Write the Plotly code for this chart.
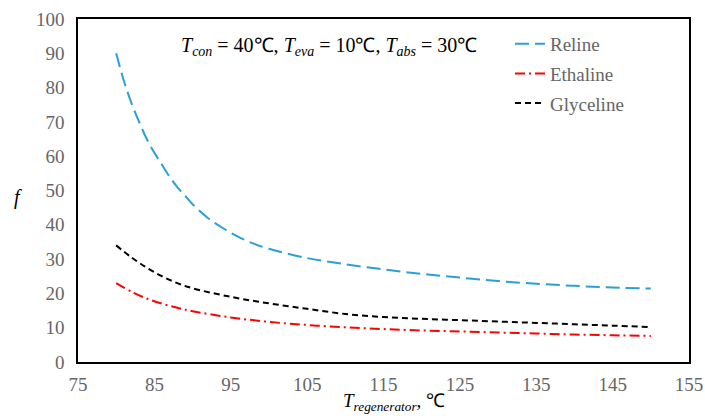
import plotly.graph_objects as go

# Data
x_reline = [80, 81, 82, 83, 84, 85, 86, 87, 88, 89, 90, 92, 94, 96, 98, 100,
            105, 110, 115, 120, 125, 130, 135, 140, 145, 150]
f_reline = [90, 82, 75.5, 70, 65, 61, 57.5, 54, 51, 48.5, 46, 42, 39, 36.5, 34.5, 33,
            30.3, 28.5, 27, 25.7, 24.6, 23.6, 22.8, 22.2, 21.7, 21.4]

x_other = [80, 82, 84, 86, 88, 90, 95, 100, 105, 110, 115, 120, 125, 130, 135, 140, 145, 150]
f_ethaline = [23, 20.5, 18.5, 17, 15.8, 14.8, 13, 11.7, 10.8, 10.1, 9.6, 9.2, 8.9, 8.6, 8.3, 8.0, 7.8, 7.6]
f_glyceline = [34, 30.5, 27.5, 25, 23, 21.5, 19, 17.1, 15.5, 14.0, 13.1, 12.6, 12.2, 11.8, 11.4, 11.0, 10.6, 10.2]

x_ticks = [75, 85, 95, 105, 115, 125, 135, 145, 155]
y_ticks = [0, 10, 20, 30, 40, 50, 60, 70, 80, 90, 100]

SERIF = "Liberation Serif"
GRAY = "#666666"

fig = go.Figure()
fig.add_trace(go.Scatter(x=x_reline, y=f_reline, name="Reline", mode="lines",
                         line=dict(color="#2A9FD8", width=2, dash="14px,6px", shape="spline"),
                         legendgroup="a"))
fig.add_trace(go.Scatter(x=x_other, y=f_ethaline, name="Ethaline", mode="lines",
                         line=dict(color="#FF0000", width=2, dash="10px,4px,2px,4px", shape="spline"),
                         legendgroup="b"))
fig.add_trace(go.Scatter(x=x_other, y=f_glyceline, name="Glyceline", mode="lines",
                         line=dict(color="#000000", width=2, dash="6px,4px", shape="spline"),
                         legendgroup="c"))

fig.update_layout(
    width=705, height=416,
    margin=dict(l=78, r=16, t=19, b=54, autoexpand=False),
    paper_bgcolor="white", plot_bgcolor="white",
    font=dict(family=SERIF, size=19, color=GRAY),
    showlegend=True,
    legend=dict(x=0.707, y=0.983, xanchor="left", yanchor="top",
                bgcolor="rgba(0,0,0,0)", traceorder="grouped", tracegroupgap=2,
                font=dict(family=SERIF, size=19, color=GRAY)),
    xaxis=dict(range=[75, 155], tickvals=x_ticks, ticktext=[str(v) for v in x_ticks],
               showgrid=False, zeroline=False, showline=True, linecolor="black",
               linewidth=1.5, mirror=True, ticks="", ticklen=0, ticklabelstandoff=4,
               tickfont=dict(family=SERIF, size=19, color=GRAY)),
    yaxis=dict(range=[0, 100], tickvals=y_ticks, ticktext=[str(v) for v in y_ticks],
               showgrid=False, zeroline=False, showline=True, linecolor="black",
               linewidth=1.5, mirror=True, ticks="", ticklen=0, ticklabelstandoff=8,
               tickfont=dict(family=SERIF, size=19, color=GRAY)),
)

fig.add_annotation(
    xref="paper", yref="paper", x=0.41, y=0.92, xanchor="center", yanchor="middle",
    showarrow=False,
    text=("<i>T</i><sub><i>con</i></sub> = 40℃, <i>T</i><sub><i>eva</i></sub> = 10℃, "
          "<i>T</i><sub><i>abs</i></sub> = 30℃"),
    font=dict(family=SERIF, size=20, color="black"),
)
fig.add_annotation(
    xref="paper", yref="paper", x=0.518, y=-0.118, xanchor="center", yanchor="middle",
    showarrow=False,
    text="<i>T</i><sub><i>regenerator</i></sub>, ℃",
    font=dict(family=SERIF, size=19, color="black"),
)
fig.add_annotation(
    xref="paper", yref="paper", x=-0.098, y=0.48, xanchor="center", yanchor="middle",
    showarrow=False,
    text="<i>f</i>",
    font=dict(family=SERIF, size=20, color="black"),
)

fig.write_html("out.html", config={"displayModeBar": False},
               post_script="document.body.style.margin='0';")
